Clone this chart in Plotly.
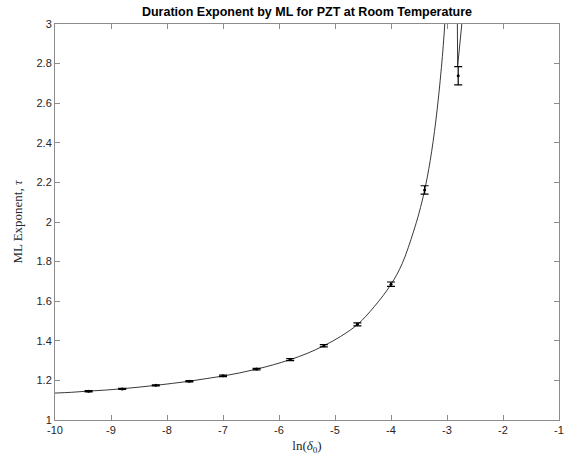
import plotly.graph_objects as go

# Data points (ln(delta_0), ML exponent tau, error)
x_data = [-9.4, -8.8, -8.2, -7.6, -7.0, -6.4, -5.8, -5.2, -4.6, -4.0, -3.4, -2.8]
tau_data = [1.145, 1.157, 1.175, 1.196, 1.223, 1.257, 1.305, 1.375, 1.483, 1.686, 2.162, 2.739]
tau_err = [0.003, 0.003, 0.003, 0.003, 0.004, 0.004, 0.005, 0.006, 0.008, 0.011, 0.021, 0.046]

# Fitted curve (left branch)
curve_x = [-10.0, -9.7, -9.4, -9.1, -8.8, -8.5, -8.2, -7.9, -7.6, -7.3, -7.0, -6.7, -6.4,
           -6.1, -5.8, -5.5, -5.2, -4.9, -4.6, -4.3, -4.0, -3.8, -3.6, -3.5, -3.4, -3.3,
           -3.2, -3.1, -3.04, -3.0]
curve_y = [1.136, 1.140, 1.146, 1.151, 1.158, 1.166, 1.175, 1.185, 1.196, 1.209, 1.222, 1.238, 1.257,
           1.279, 1.305, 1.336, 1.375, 1.422, 1.482, 1.572, 1.685, 1.79, 1.95, 2.045, 2.16, 2.31,
           2.51, 2.78, 3.0, 3.25]
# Right branch beyond the singularity
curve2_x = [-2.817, -2.81, -2.725]
curve2_y = [3.1, 2.786, 3.03]

x_ticks = [-10, -9, -8, -7, -6, -5, -4, -3, -2, -1]
y_ticks = [1, 1.2, 1.4, 1.6, 1.8, 2, 2.2, 2.4, 2.6, 2.8, 3]

fig = go.Figure()
fig.add_trace(go.Scatter(x=curve_x, y=curve_y, mode="lines", line=dict(color="#222222", width=0.9, shape="spline"),
                         showlegend=False, hoverinfo="skip"))
fig.add_trace(go.Scatter(x=curve2_x, y=curve2_y, mode="lines", line=dict(color="#222222", width=0.9),
                         showlegend=False, hoverinfo="skip"))
fig.add_trace(go.Scatter(x=x_data, y=tau_data, mode="markers",
                         marker=dict(color="black", size=3),
                         error_y=dict(type="data", array=tau_err, visible=True, color="black", thickness=1.2, width=4),
                         showlegend=False))

axis_common = dict(showline=True, linecolor="#8c8c8c", linewidth=1, mirror="ticks", ticks="inside",
                   ticklen=5, tickcolor="#8c8c8c", showgrid=False, zeroline=False,
                   tickfont=dict(family="Liberation Sans, Arial, sans-serif", size=11, color="#262626"))

fig.update_layout(
    width=576, height=462,
    margin=dict(l=55, r=17, t=24, b=39),
    paper_bgcolor="white", plot_bgcolor="white",
    title=dict(text="<b>Duration Exponent by ML for PZT at Room Temperature</b>",
               x=0.5, xref="paper", xanchor="center", y=1, yref="paper", yanchor="bottom", pad=dict(b=8),
               font=dict(family="Liberation Sans, Arial, sans-serif", size=12.5, color="black")),
    xaxis=dict(range=[-10, -1], tickvals=x_ticks, ticktext=[str(v) for v in x_ticks],
               title=dict(text="ln(<i>δ</i><sub>0</sub>)", standoff=5,
                          font=dict(family="Liberation Serif, DejaVu Serif, serif", size=13, color="#262626")),
               **axis_common),
    yaxis=dict(range=[1, 3], tickvals=y_ticks, ticktext=[f"{v:g}" for v in y_ticks],
               title=dict(text="ML Exponent, <i>τ</i>", standoff=10,
                          font=dict(family="Liberation Serif, DejaVu Serif, serif", size=13, color="#262626")),
               **axis_common),
)

fig.write_html("out.html", config={"displayModeBar": False},
               post_script="document.body.style.margin='0';document.body.style.padding='0';")
